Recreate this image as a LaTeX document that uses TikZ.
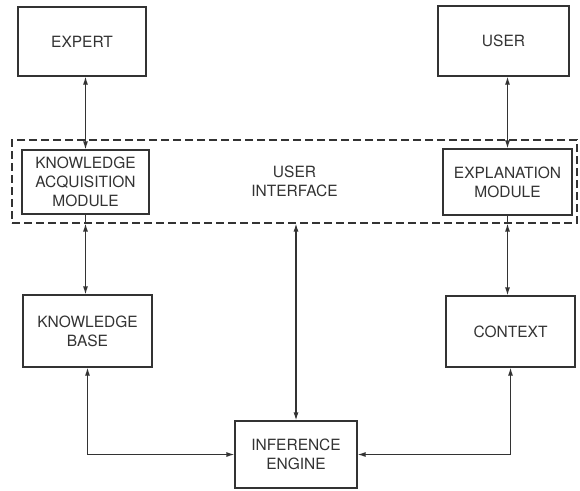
\documentclass[tikz,border=0pt]{standalone}
\usepackage{fontspec}
\setmainfont{TeX Gyre Heros}
\usetikzlibrary{arrows.meta}
\definecolor{ink}{HTML}{333333}
\begin{document}
\begin{tikzpicture}[x=1pt,y=-1pt,
  box/.style={draw=ink,line width=1.2pt,text=ink,align=center,inner sep=0pt,
    font=\fontsize{15.5}{19}\selectfont},
  conn/.style={draw=ink,line width=1.2pt,{Latex[length=8pt,width=5pt]}-{Latex[length=8pt,width=5pt]}},
  plain/.style={draw=ink,line width=1.2pt}]
\useasboundingbox (0,0) rectangle (580,490);
\node[draw=ink,line width=1.1pt,dash pattern=on 8pt off 4pt,minimum width=565pt,minimum height=83pt,
  text=ink,align=center,font=\fontsize{15.5}{19}\selectfont] (ui) at (294.5,181.5) {USER\\INTERFACE};
\node[box,minimum width=128pt,minimum height=69pt] (expert) at (82,41.5) {EXPERT};
\node[box,minimum width=131pt,minimum height=70pt] (user) at (503.5,41) {USER};
\node[box,minimum width=127pt,minimum height=64pt,fill=white] (kam) at (85.5,182) {KNOWLEDGE\\ACQUISITION\\MODULE};
\node[box,minimum width=129pt,minimum height=66pt,fill=white] (em) at (507.5,182) {EXPLANATION\\MODULE};
\node[box,minimum width=129pt,minimum height=72pt] (kb) at (87.5,331) {KNOWLEDGE\\BASE};
\node[box,minimum width=129pt,minimum height=71pt] (ctx) at (510.5,331.5) {CONTEXT};
\node[box,minimum width=122pt,minimum height=67pt] (ie) at (296,454.5) {INFERENCE\\ENGINE};
\draw[conn] (expert.south -| kam.north) -- (kam.north);
\draw[conn] (user.south -| em.north) -- (em.north);
\draw[plain] (kam.south) -- (kam.south |- ui.south);
\draw[conn] (kam.south |- ui.south) -- (kam.south |- kb.north);
\draw[plain] (em.south) -- (em.south |- ui.south);
\draw[conn] (em.south |- ui.south) -- (em.south |- ctx.north);
\draw[conn] (ui.south -| ie.north) -- (ie.north);
\draw[conn] (kb.south) |- (ie.west);
\draw[conn] (ctx.south) |- (ie.east);
\end{tikzpicture}
\end{document}
